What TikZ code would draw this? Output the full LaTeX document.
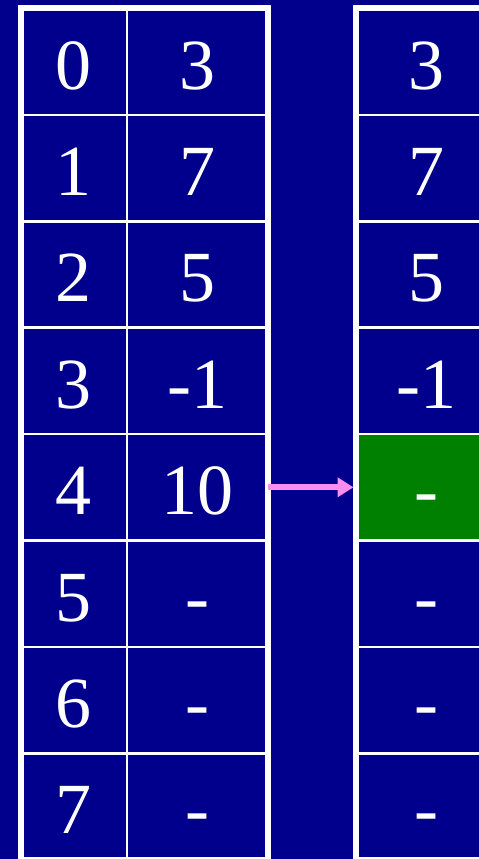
\documentclass[tikz,border=0pt]{standalone}
\usepackage{fontspec}
\setmainfont{Liberation Serif}
\usetikzlibrary{arrows.meta}

\definecolor{navy}{RGB}{0,0,140}
\definecolor{cellgreen}{RGB}{0,128,0}
\definecolor{arrowpink}{RGB}{255,140,240}

\tikzset{
  cell/.style = {draw=white, line width=2.5pt, inner sep=0pt, outer sep=0pt,
    minimum height=106.4pt, text=white, text height=54.6pt, text depth=0pt,
    font=\fontsize{72}{72}\selectfont},
  idxcell/.style = {cell, minimum width=106.5pt},
  valcell/.style = {cell, minimum width=140.5pt},
  frame/.style = {draw=white, line width=6pt}
}

\begin{document}
\begin{tikzpicture}[x=1pt,y=-1pt]
      \fill[navy] (0,0) rectangle (479,859);
      \clip (0,0) rectangle (479,859);

      % Left table
      \foreach \v [count=\i from 0] in {3,7,5,-1,10,-,-,-}{
        \node[idxcell] (i\i) at (73.75, 61.7+106.4*\i) {\i};
        \node[valcell] (v\i) at (197.25, 61.7+106.4*\i) {\v};
      }
      \draw[frame] (i0.north west) rectangle (v7.south east);

      % Right table
      \foreach \v/\c [count=\i from 0] in {3/navy,7/navy,5/navy,-1/navy,-/cellgreen,-/navy,-/navy,-/navy}{
        \node[valcell, fill=\c, minimum width=141.5pt] (r\i) at (426.25, 61.7+106.4*\i) {\v};
      }
      \draw[frame] (r0.north west) rectangle (r7.south east);

      % Arrow
      \draw[arrowpink, line width=6pt, -{Triangle[length=16pt,width=19pt]}, shorten >=2pt] (v4.east) -- (r4.west);
    \end{tikzpicture}
\end{document}
